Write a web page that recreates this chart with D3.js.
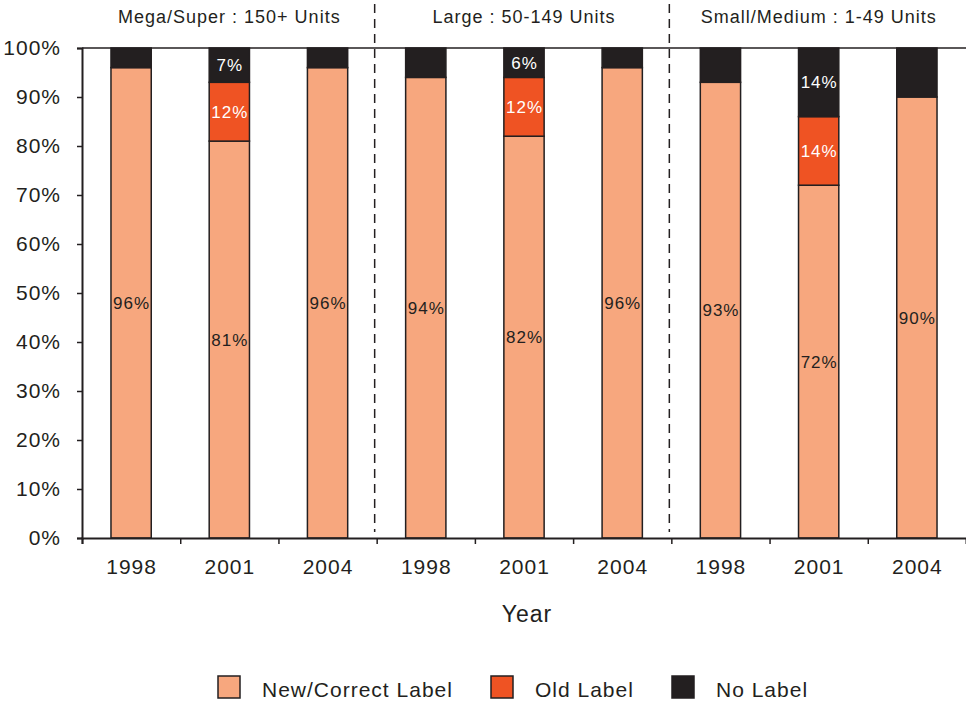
<!DOCTYPE html>
<html>
<head>
<meta charset="utf-8">
<script src="https://cdnjs.cloudflare.com/ajax/libs/d3/7.8.5/d3.min.js"></script>
<style>
  body { margin: 0; background: #fff; }
  text { font-family: 'Liberation Sans', Arial, sans-serif; fill: #231f20; letter-spacing: 1px; }
</style>
</head>
<body>
<div id="chart"></div>
<script>
// groups and years
const groups = ['Mega/Super : 150+ Units', 'Large : 50-149 Units', 'Small/Medium : 1-49 Units']
const years = ['1998', '2001', '2004']
const seriesNames = ['New/Correct Label', 'Old Label', 'No Label']
const seriesColors = ['#f7a77e', '#ef5323', '#231f20']
// values per bar, in group order then year order
const newLabel = [96, 81, 96, 94, 82, 96, 93, 72, 90]
const oldLabel = [0, 12, 0, 0, 12, 0, 0, 14, 0]
const noLabel = [4, 7, 4, 6, 6, 4, 7, 14, 10]
// which segments carry a text label
const showNew = [true, true, true, true, true, true, true, true, true]
const showOld = [false, true, false, false, true, false, false, true, false]
const showNo = [false, true, false, false, true, false, false, true, false]
const yTicks = [0, 10, 20, 30, 40, 50, 60, 70, 80, 90, 100]

const width = 966
const height = 702
const margin = { left: 82, right: 0, top: 48, bottom: 164 }

const svg = d3.select('#chart')
  .append('svg')
  .attr('width', width)
  .attr('height', height)

const bars = []
groups.forEach((g, gi) => {
  years.forEach((yr, yi) => {
    const i = gi * 3 + yi
    bars.push({ key: i, group: g, year: yr, values: [newLabel[i], oldLabel[i], noLabel[i]], show: [showNew[i], showOld[i], showNo[i]] })
  })
})

const x = d3.scaleBand()
  .domain(bars.map(d => d.key))
  .range([margin.left, width - margin.right])
  .paddingInner(0.59)
  .paddingOuter(0.295)

const xEdges = d3.scaleLinear()
  .domain([0, bars.length])
  .range([margin.left, width - margin.right])

const y = d3.scaleLinear()
  .domain([0, 100])
  .range([height - margin.bottom, margin.top])

// top border line
svg.append('line')
  .attr('x1', margin.left).attr('x2', width)
  .attr('y1', y(100)).attr('y2', y(100))
  .attr('stroke', '#231f20').attr('stroke-width', 1.5)

// dashed group separators
;[3, 6].forEach(k => {
  svg.append('line')
    .attr('x1', xEdges(k) - 2).attr('x2', xEdges(k) - 2)
    .attr('y1', 4).attr('y2', y(0) - 6)
    .attr('stroke', '#231f20')
    .attr('stroke-width', 1.5)
    .attr('stroke-dasharray', '9,6')
})

// group headers
groups.forEach((g, gi) => {
  svg.append('text')
    .attr('x', (xEdges(gi * 3) + xEdges(gi * 3 + 3)) / 2)
    .attr('y', 23)
    .attr('text-anchor', 'middle')
    .attr('font-size', 18)
    .text(g)
})

// stacked bars
const stack = d3.stack().keys([0, 1, 2]).value((d, k) => d.values[k])
const layers = stack(bars)

layers.forEach((layer, li) => {
  svg.append('g')
    .selectAll('rect')
    .data(layer.filter(s => s[1] - s[0] > 0))
    .enter()
    .append('rect')
    .attr('x', s => x(s.data.key))
    .attr('width', x.bandwidth())
    .attr('y', s => y(s[1]))
    .attr('height', s => y(s[0]) - y(s[1]))
    .attr('fill', seriesColors[li])
    .attr('stroke', '#231f20')
    .attr('stroke-width', 1.5)

  svg.append('g')
    .selectAll('text')
    .data(layer.filter(s => s.data.show[li]))
    .enter()
    .append('text')
    .attr('x', s => x(s.data.key) + x.bandwidth() / 2 + 0.5)
    .attr('y', s => (y(s[0]) + y(s[1])) / 2 + 6)
    .attr('text-anchor', 'middle')
    .attr('font-size', 17)
    .style('fill', li === 0 ? '#231f20' : '#fff')
    .text(s => s.data.values[li] + '%')
})

// y axis
const yAxis = svg.append('g')
  .attr('transform', `translate(${margin.left},0)`)
  .call(d3.axisLeft(y).tickValues(yTicks).tickSize(5).tickFormat(d => d + '%'))
yAxis.select('.domain').attr('stroke', '#231f20').attr('stroke-width', 2)
yAxis.selectAll('.tick line').attr('stroke', '#231f20').attr('stroke-width', 1.5)
yAxis.selectAll('.tick text').attr('font-size', 21).attr('x', -21).style('font-family', "'Liberation Sans', Arial, sans-serif").attr('fill', '#231f20')

// x axis baseline and ticks at band edges
const xAxis = svg.append('g')
  .attr('transform', `translate(0,${y(0)})`)
  .call(d3.axisBottom(xEdges).tickValues(d3.range(0, bars.length)).tickSize(6).tickFormat(''))
xAxis.select('.domain').attr('stroke', '#231f20').attr('stroke-width', 2)
xAxis.selectAll('.tick line').attr('stroke', '#231f20').attr('stroke-width', 1.5)

// year labels
svg.append('g')
  .selectAll('text')
  .data(bars)
  .enter()
  .append('text')
  .attr('x', d => x(d.key) + x.bandwidth() / 2 + 0.5)
  .attr('y', y(0) + 36)
  .attr('text-anchor', 'middle')
  .attr('font-size', 21)
  .text(d => d.year)

svg.append('text')
  .attr('x', 527)
  .attr('y', 622)
  .attr('text-anchor', 'middle')
  .attr('font-size', 23)
  .text('Year')

// legend
const legendX = [218, 491, 672]
seriesNames.forEach((n, i) => {
  svg.append('rect')
    .attr('x', legendX[i]).attr('y', 676)
    .attr('width', 22).attr('height', 22)
    .attr('fill', seriesColors[i])
    .attr('stroke', '#231f20').attr('stroke-width', 1.5)
  svg.append('text')
    .attr('x', legendX[i] + 44)
    .attr('y', 697)
    .attr('font-size', 21)
    .text(n)
})
</script>
</body>
</html>
